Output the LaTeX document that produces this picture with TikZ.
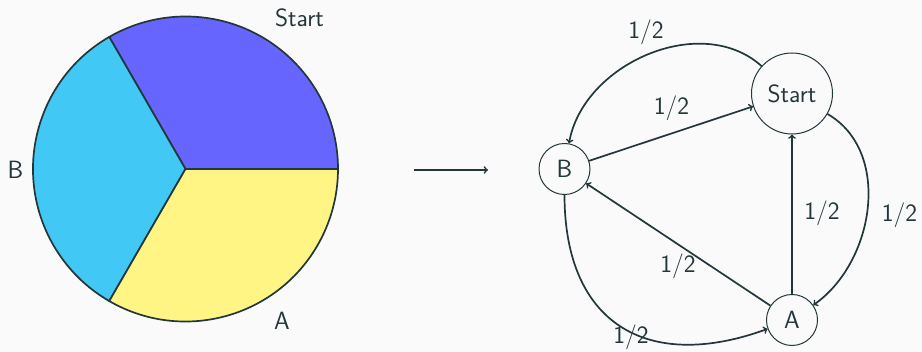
\documentclass[tikz,border=0pt]{standalone}
\usepackage{tikz}
\definecolor{ink}{HTML}{23373B}
\definecolor{bg}{HTML}{FAFAFA}
\definecolor{sliceStart}{HTML}{6666FF}
\definecolor{sliceB}{HTML}{42C8F4}
\definecolor{sliceA}{HTML}{FFF585}
\tikzset{
  txt/.style={text=ink, font=\fontsize{25}{30}\selectfont\sffamily, inner sep=0pt},
  state/.style={circle, draw=ink, line width=1pt, fill=bg, txt, inner sep=0pt},
  trans/.style={draw=ink, line width=1.7pt, ->},
  slice/.style={draw=ink, line width=1.7pt, line join=round},
}
\begin{document}
\begin{tikzpicture}[x=1pt, y=1pt]
  \fill[bg] (0,0) rectangle (922,352);
  \useasboundingbox (0,0) rectangle (922,352);

  % pie of three equal sectors
  \coordinate (pc) at (185.5,183);
  \filldraw[slice, fill=sliceStart] (pc) -- ++(0:152.5) arc[start angle=0, end angle=120, radius=152.5] -- cycle;
  \filldraw[slice, fill=sliceB] (pc) -- ++(120:152.5) arc[start angle=120, end angle=240, radius=152.5] -- cycle;
  \filldraw[slice, fill=sliceA] (pc) -- ++(240:152.5) arc[start angle=240, end angle=360, radius=152.5] -- cycle;
  \node[txt] (pieStart) at (299.5,334) {Start};
  \node[txt] (pieB) at (15.5,182) {B};
  \node[txt] (pieA) at (282,31) {A};

  % arrow between the two panels
  \coordinate (mapFrom) at (414,182);
  \coordinate (mapTo) at (488,182);
  \draw[trans] (mapFrom) -- (mapTo);

  % Markov chain
  \node[state, minimum size=81pt] (S) at (792,258.5) {Start};
  \node[state, minimum size=51pt] (B) at (564.5,183) {B};
  \node[state, minimum size=51pt] (A) at (792,32) {A};

  \draw[trans] (S) to[out=138, in=80, looseness=1.0] (B);
  \draw[trans] (B) -- (S);
  \draw[trans] (S) to[out=-30, in=35, looseness=1.0] (A);
  \draw[trans] (A) -- (S);
  \draw[trans] (A) -- (B);
  \draw[trans] (B) to[out=-90, in=200, looseness=1.35] (A);

  \node[txt] (pSB) at (646,320) {1/2};
  \node[txt] (pBS) at (671.5,243.5) {1/2};
  \node[txt] (pAS) at (822,139) {1/2};
  \node[txt] (pSA) at (899.5,137) {1/2};
  \node[txt] (pAB) at (678,86) {1/2};
  \node[txt] (pBA) at (631,15) {1/2};
\end{tikzpicture}
\end{document}
